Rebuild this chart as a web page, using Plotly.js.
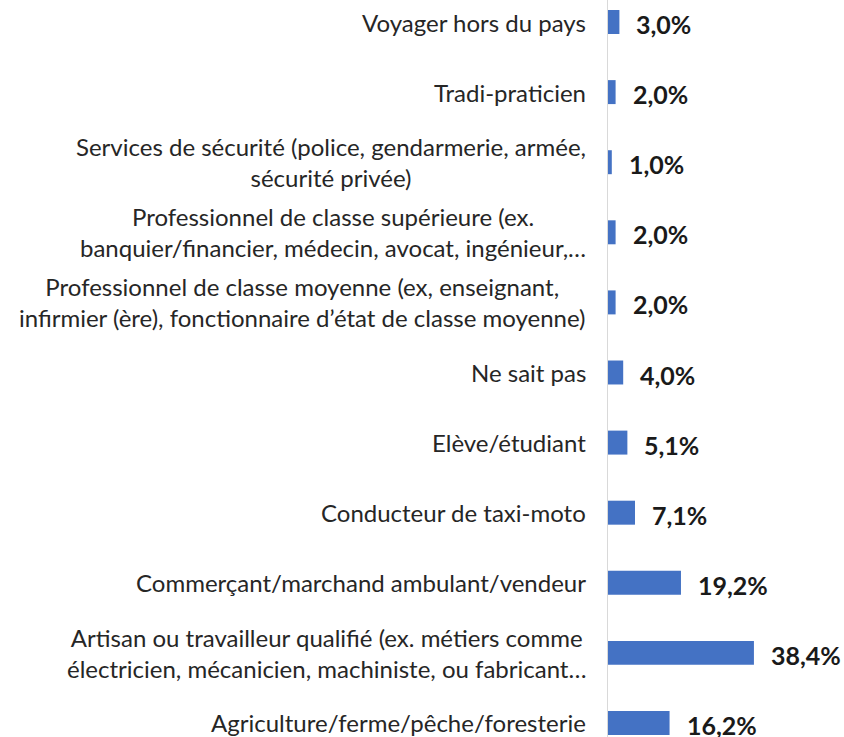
<!DOCTYPE html>
<html>
<head>
<meta charset="utf-8">
<script src="https://cdn.plot.ly/plotly-3.0.1.min.js"></script>
<style>html,body{margin:0;padding:0;background:#fff;}#chart{width:844px;height:737px;}</style>
</head>
<body>
<div id="chart"></div>
<script>
const categories = [
  "Agriculture/ferme/pêche/foresterie",
  "Artisan ou travailleur qualifié (ex. métiers comme<br>électricien, mécanicien, machiniste, ou fabricant…",
  "Commerçant/marchand ambulant/vendeur",
  "Conducteur de taxi-moto",
  "Elève/étudiant",
  "Ne sait pas",
  "Professionnel de classe moyenne (ex, enseignant,<br>infirmier (ère), fonctionnaire d’état de classe moyenne)",
  "Professionnel de classe supérieure (ex.<br>banquier/financier, médecin, avocat, ingénieur,…",
  "Services de sécurité (police, gendarmerie, armée,<br>sécurité privée)",
  "Tradi-praticien",
  "Voyager hors du pays"
];
const values = [16.2, 38.4, 19.2, 7.1, 5.1, 4.0, 2.0, 2.0, 1.0, 2.0, 3.0];
const valueLabels = values.map(v => v.toFixed(1).replace('.', ',') + '%');

const FONT = 'Lato, "Open Sans", sans-serif';

const catAnnotations = categories.map(c => ({
  x: 0, xref: 'paper', y: c, yref: 'y',
  text: c, showarrow: false, xanchor: 'right', yanchor: 'middle',
  align: 'center', xshift: -20,
  font: {family: FONT, size: 24, color: '#262626'}
}));
const valAnnotations = categories.map((c, i) => ({
  x: values[i], xref: 'x', y: c, yref: 'y',
  text: '<b>' + valueLabels[i] + '</b>', showarrow: false,
  xanchor: 'left', yanchor: 'middle', xshift: 15, yshift: -2,
  font: {family: FONT, size: 25, color: '#1a1a1a'}
}));

Plotly.newPlot('chart', [{
  type: 'bar', orientation: 'h',
  x: values, y: categories,
  marker: {color: '#4472C4'},
  hoverinfo: 'none'
}], {
  width: 844, height: 737,
  margin: {l: 608, r: 0, t: 0, b: 0},
  paper_bgcolor: '#fff', plot_bgcolor: '#fff',
  bargap: 0.658,
  showlegend: false,
  xaxis: {range: [0, 62.1], visible: false, showgrid: false, zeroline: false},
  yaxis: {type: 'category', categoryorder: 'array', categoryarray: categories,
          range: [-0.2, 10.314], showticklabels: false, ticks: '',
          showline: true, linecolor: '#d9d9d9', linewidth: 1, showgrid: false, zeroline: false},
  annotations: catAnnotations.concat(valAnnotations),
  font: {family: FONT}
}, {staticPlot: true});
</script>
</body>
</html>
